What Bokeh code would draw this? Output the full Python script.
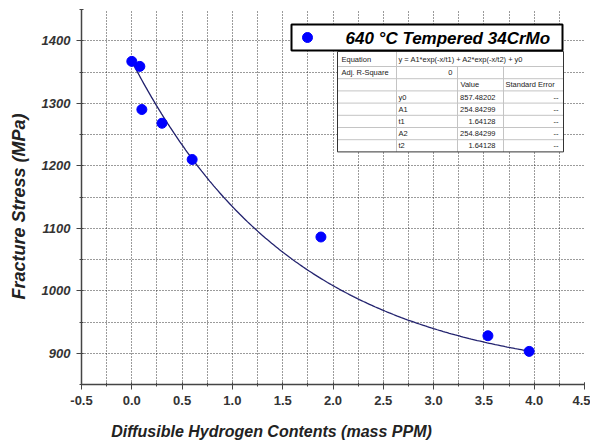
import numpy as np
from bokeh.plotting import figure
from bokeh.models import FixedTicker, Range1d, Label
from bokeh.core.properties import value
from bokeh.embed import file_html
from bokeh.resources import INLINE

# ---------------- data ----------------
hydrogen = [0.0, 0.08, 0.10, 0.30, 0.60, 1.88, 3.54, 3.95]
stress = [1367, 1359, 1290, 1268, 1210, 1086, 928, 903]

fit_y0 = 857.48202
fit_A1 = 254.84299
fit_t1 = 1.64128
fit_A2 = 254.84299
fit_t2 = 1.64128

x_ticks = [-0.5, 0.0, 0.5, 1.0, 1.5, 2.0, 2.5, 3.0, 3.5, 4.0, 4.5]
x_tick_labels = ["-0.5", "0.0", "0.5", "1.0", "1.5", "2.0", "2.5", "3.0", "3.5", "4.0", "4.5"]
y_ticks = [900, 1000, 1100, 1200, 1300, 1400]
y_tick_labels = ["900", "1000", "1100", "1200", "1300", "1400"]

legend_label = "640 °C Tempered 34CrMo"
x_title = "Diffusible Hydrogen Contents (mass PPM)"
y_title = "Fracture Stress (MPa)"

table_col1 = ["Equation", "Adj. R-Square", "", "", "", "", "", ""]
table_col2 = ["y = A1*exp(-x/t1) + A2*exp(-x/t2) + y0", "0", "", "y0", "A1", "t1", "A2", "t2"]
table_col3 = ["", "", "Value", "857.48202", "254.84299", "1.64128", "254.84299", "1.64128"]
table_col4 = ["", "", "Standard Error", "--", "--", "--", "--", "--"]

# ---------------- layout ----------------
XMIN, XMAX = -0.5, 4.5
YMIN, YMAX = 850, 1450
FL, FT, FW, FH = 81, 9, 503, 375   # frame in canvas pixels


def X(wx):
    return XMIN + (wx - FL) * (XMAX - XMIN) / FW


def Y(wy):
    return YMAX - (wy - FT) * (YMAX - YMIN) / FH


FONT = "Liberation Sans"

p = figure(frame_width=FW, frame_height=FH, x_range=Range1d(XMIN, XMAX), y_range=Range1d(YMIN, YMAX),
           output_backend="svg", toolbar_location=None,
           min_border_left=FL, min_border_right=6, min_border_top=FT, min_border_bottom=57)
p.outline_line_color = None
p.background_fill_color = "white"
p.border_fill_color = "white"

minor_x = [XMIN + 0.25 * i for i in range(21)]
minor_y = [YMIN + 50 * i for i in range(13)]

p.xaxis.ticker = FixedTicker(ticks=x_ticks, minor_ticks=minor_x)
p.yaxis.ticker = FixedTicker(ticks=y_ticks, minor_ticks=minor_y)
p.xaxis.major_label_overrides = {t: l for t, l in zip(x_ticks, x_tick_labels)}
p.yaxis.major_label_overrides = {t: l for t, l in zip(y_ticks, y_tick_labels)}

for ax in (p.xaxis[0], p.yaxis[0]):
    ax.axis_line_color = "#444444"
    ax.axis_line_width = 1.5
    ax.major_tick_line_color = "#444444"
    ax.minor_tick_line_color = "#444444"
    ax.major_tick_in = 2
    ax.major_tick_out = 5
    ax.minor_tick_in = 2
    ax.minor_tick_out = 2
    ax.major_label_text_font = FONT
    ax.major_label_text_color = "#333333"
    ax.major_label_standoff = 6

p.xaxis.major_label_text_font_size = "13px"
p.xaxis.major_label_text_font_style = "bold"
p.yaxis.major_label_text_font_size = "13px"
p.yaxis.major_label_text_font_style = "bold italic"

# axis titles placed at canvas positions in the side panels
p.add_layout(Label(x=271, y=431, x_units="canvas", y_units="canvas", text=x_title,
                   text_font=FONT, text_font_size="16px", text_font_style="bold italic",
                   text_align="center", text_baseline="middle", text_color="#222222"), "below")
p.add_layout(Label(x=18, y=206, x_units="canvas", y_units="canvas", text=y_title, angle=np.pi / 2,
                   text_font=FONT, text_font_size="18px", text_font_style="bold italic",
                   text_align="center", text_baseline="middle", text_color="#222222"), "left")

p.xgrid.ticker = FixedTicker(ticks=[t for t in minor_x if XMIN < t < XMAX])
p.ygrid.ticker = FixedTicker(ticks=[t for t in minor_y if YMIN < t < YMAX])
for g in (p.xgrid[0], p.ygrid[0]):
    g.grid_line_color = "#222222"
    g.grid_line_dash = "1 2"
    g.grid_line_width = 1
    g.grid_line_alpha = 0.9

# fit curve from the fitted parameters shown in the table
xf = np.linspace(min(hydrogen), max(hydrogen), 200)
yf = fit_y0 + fit_A1 * np.exp(-xf / fit_t1) + fit_A2 * np.exp(-xf / fit_t2)
p.line(xf, yf, line_color="#22226e", line_width=1.3)

p.scatter(hydrogen, stress, size=10, marker="circle", fill_color="#0000ff", line_color="#0000ff")

# legend box
p.quad(left=[X(291)], right=[X(562)], top=[Y(24)], bottom=[Y(50)],
       fill_color="white", line_color="black", line_width=2)
p.scatter([X(307)], [Y(37)], size=10, marker="circle", fill_color="#0000ff", line_color="#0000ff")
p.text([X(345)], [Y(38)], text=[legend_label], text_font=value(FONT), text_font_size="17px",
       text_font_style="bold italic", text_baseline="middle", text_align="left", text_color="black")

# table
cols = [337, 396, 457, 503, 563]
rows = [51, 66] + [66 + 12.2 * i for i in range(1, 8)]
p.quad(left=[X(cols[0])], right=[X(cols[-1])], top=[Y(rows[0])], bottom=[Y(rows[-1])],
       fill_color="white", line_color=None)
hx0, hx1, hy0, hy1 = [], [], [], []
for r in rows[1:-1]:
    hx0.append(X(cols[0])); hx1.append(X(cols[-1])); hy0.append(Y(r)); hy1.append(Y(r))
hx0.append(X(cols[1])); hx1.append(X(cols[1])); hy0.append(Y(rows[0])); hy1.append(Y(rows[-1]))
for c in cols[2:4]:
    hx0.append(X(c)); hx1.append(X(c)); hy0.append(Y(rows[1])); hy1.append(Y(rows[-1]))
p.segment(hx0, hy0, hx1, hy1, line_color="#c4c4c4", line_width=1)
p.quad(left=[X(cols[0])], right=[X(cols[-1])], top=[Y(rows[0])], bottom=[Y(rows[-1])],
       fill_color=None, line_color="#333333", line_width=1)

lx, ly, lt = [], [], []
rx, ry, rt = [], [], []
for i in range(8):
    cy = Y((rows[i] + rows[i + 1]) / 2)
    if table_col1[i]:
        lx.append(X(cols[0] + 4)); ly.append(cy); lt.append(table_col1[i])
    if table_col2[i]:
        if i == 1:
            rx.append(X(cols[2] - 5)); ry.append(cy); rt.append(table_col2[i])
        else:
            lx.append(X(cols[1] + 2)); ly.append(cy); lt.append(table_col2[i])
    if table_col3[i]:
        if i == 2:
            lx.append(X(cols[2] + 3)); ly.append(cy); lt.append(table_col3[i])
        else:
            rx.append(X(cols[3] - 8)); ry.append(cy); rt.append(table_col3[i])
    if table_col4[i]:
        if i == 2:
            lx.append(X(cols[3] + 2)); ly.append(cy); lt.append(table_col4[i])
        else:
            rx.append(X(cols[4] - 5)); ry.append(cy); rt.append(table_col4[i])

p.text(lx, ly, text=lt, text_font=value(FONT), text_font_size="7.5px", text_baseline="middle",
       text_align="left", text_color="#222222")
p.text(rx, ry, text=rt, text_font=value(FONT), text_font_size="7.5px", text_baseline="middle",
       text_align="right", text_color="#222222")

open("out.html", "w").write(file_html(p, INLINE))
